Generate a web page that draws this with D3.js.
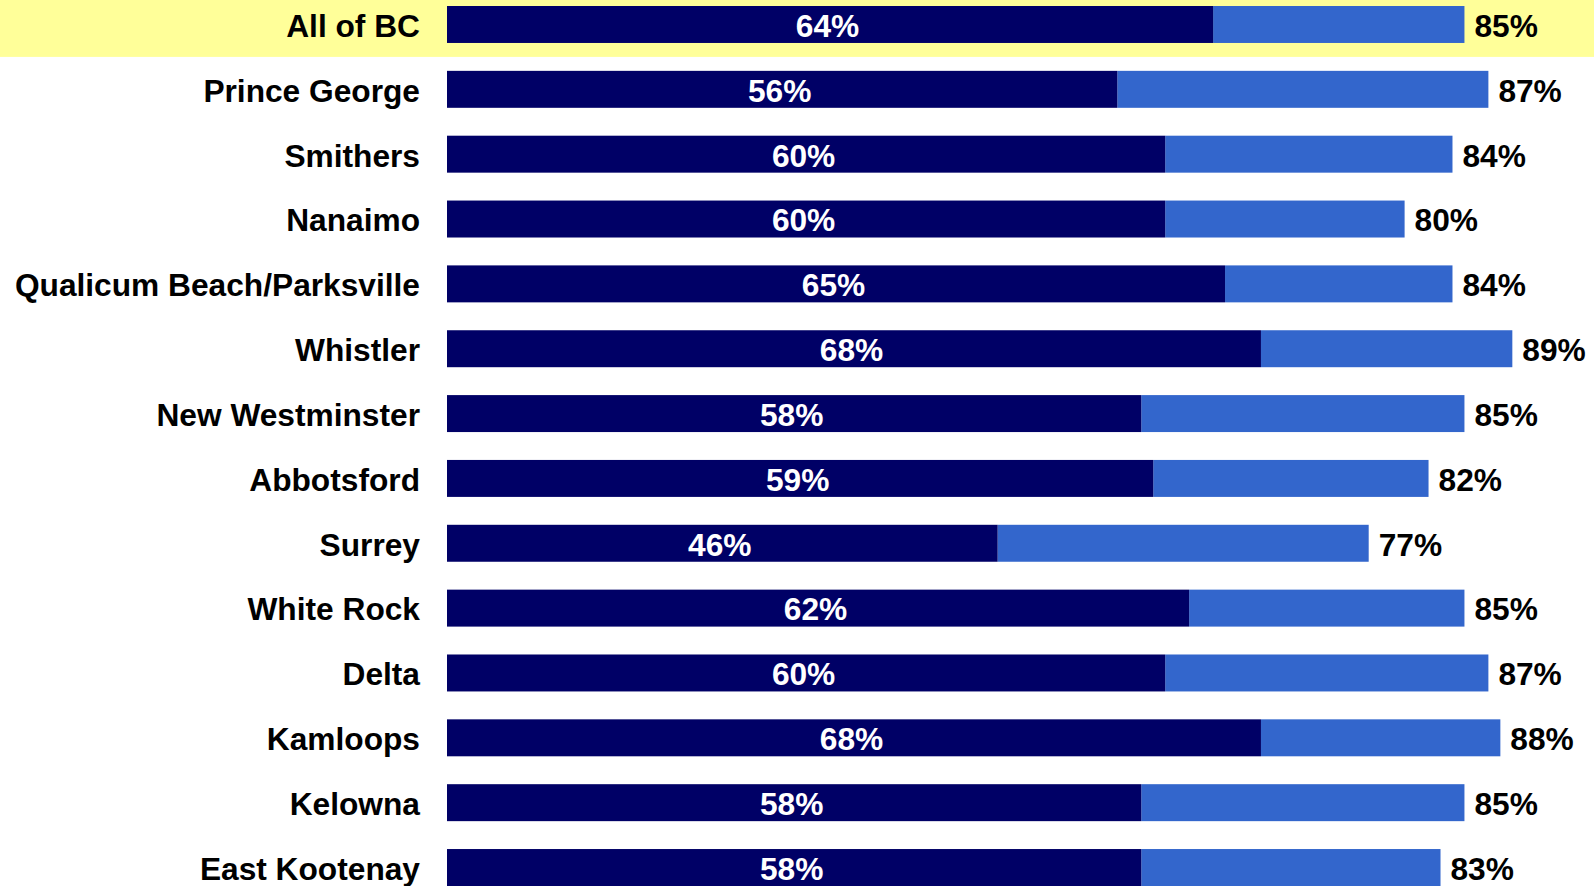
<!DOCTYPE html>
<html>
<head>
<meta charset="utf-8">
<script src="https://cdn.jsdelivr.net/npm/d3@7"></script>
<style>
  html, body { margin: 0; padding: 0; background: #ffffff; overflow: hidden; }
  svg { display: block; }
  text { font-family: "Liberation Sans", Arial, Helvetica, sans-serif; font-weight: bold; }
</style>
</head>
<body>
<svg id="chart"></svg>
<script>
// Regions, listed top to bottom
const regions = [
  "All of BC", "Prince George", "Smithers", "Nanaimo", "Qualicum Beach/Parksville",
  "Whistler", "New Westminster", "Abbotsford", "Surrey", "White Rock",
  "Delta", "Kamloops", "Kelowna", "East Kootenay"
];
// Inner (dark) share, percent
const innerShare = [64, 56, 60, 60, 65, 68, 58, 59, 46, 62, 60, 68, 58, 58];
// Total share, percent (end of the light segment)
const totalShare = [85, 87, 84, 80, 84, 89, 85, 82, 77, 85, 87, 88, 85, 83];
// Row that gets the highlight band
const highlighted = ["All of BC"];

const W = 1594, H = 886;
const rows = regions.map((r, i) => ({ region: r, inner: innerShare[i], total: totalShare[i] }));

const svg = d3.select("#chart").attr("width", W).attr("height", H);

const x = d3.scaleLinear().domain([0, 100]).range([447, 447 + 1197]);
const y = d3.scaleBand().domain(regions).range([6, 886]).paddingInner(0.43).paddingOuter(0);
const gap = y.step() - y.bandwidth();

// Highlight band behind the summary row
svg.append("g").selectAll("rect")
  .data(highlighted)
  .join("rect")
  .attr("x", 0)
  .attr("width", W)
  .attr("y", d => y(d) - 6)
  .attr("height", d => y.bandwidth() + 6 + gap / 2)
  .attr("fill", "#FFFF99");

const fontSize = 31.7;
const dy = "0.39em";

// Light segment: inner share up to total share
svg.append("g").selectAll("rect")
  .data(rows)
  .join("rect")
  .attr("x", d => x(d.inner))
  .attr("width", d => x(d.total) - x(d.inner))
  .attr("y", d => y(d.region))
  .attr("height", y.bandwidth())
  .attr("fill", "#3366CC");

// Dark segment: 0 up to inner share
svg.append("g").selectAll("rect")
  .data(rows)
  .join("rect")
  .attr("x", x(0))
  .attr("width", d => x(d.inner) - x(0))
  .attr("y", d => y(d.region))
  .attr("height", y.bandwidth())
  .attr("fill", "#000066");

// Inner share labels, centred in the dark segment
svg.append("g").selectAll("text")
  .data(rows)
  .join("text")
  .attr("x", d => (x(0) + x(d.inner)) / 2 - 2.5)
  .attr("y", d => y(d.region) + y.bandwidth() / 2)
  .attr("dy", dy)
  .attr("text-anchor", "middle")
  .attr("font-size", fontSize)
  .attr("fill", "#ffffff")
  .text(d => d.inner + "%");

// Total share labels, just past the bar end
svg.append("g").selectAll("text")
  .data(rows)
  .join("text")
  .attr("x", d => x(d.total) + 10)
  .attr("y", d => y(d.region) + y.bandwidth() / 2)
  .attr("dy", dy)
  .attr("text-anchor", "start")
  .attr("font-size", fontSize)
  .attr("fill", "#000000")
  .text(d => d.total + "%");

// Region names on the left
const axis = d3.axisLeft(y).tickSize(0).tickPadding(0);
const gAxis = svg.append("g")
  .attr("transform", "translate(420,0)")
  .call(axis);
gAxis.select(".domain").remove();
gAxis.selectAll("text")
  .attr("font-size", fontSize)
  .attr("font-family", "'Liberation Sans', Arial, Helvetica, sans-serif")
  .attr("font-weight", "bold")
  .attr("fill", "#000000")
  .attr("dy", dy);
</script>
</body>
</html>
